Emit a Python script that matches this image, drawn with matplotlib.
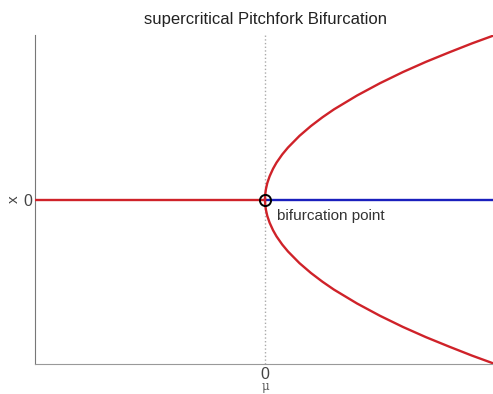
import matplotlib
matplotlib.use('Agg')
import matplotlib.pyplot as plt

plt.rcParams['font.family'] = ['Liberation Sans', 'DejaVu Sans']

# fixed point branches of dx/dt = mu*x - x^3
mu_left = [-1.0, 0.0]
x_left = [0.0, 0.0]          # stable (mu < 0)
mu_right = [0.0, 1.0]
x_right = [0.0, 0.0]         # unstable (mu > 0)

mu_branch = [0.0, 0.001, 0.004, 0.01, 0.02, 0.035, 0.05, 0.075, 0.1, 0.15,
             0.2, 0.25, 0.3, 0.4, 0.5, 0.6, 0.7, 0.8, 0.9, 1.0]
x_upper = [0.0, 0.032, 0.063, 0.10, 0.141, 0.187, 0.224, 0.274, 0.316, 0.387,
           0.447, 0.50, 0.548, 0.632, 0.707, 0.775, 0.837, 0.894, 0.949, 1.0]
x_lower = [0.0, -0.032, -0.063, -0.10, -0.141, -0.187, -0.224, -0.274, -0.316, -0.387,
           -0.447, -0.50, -0.548, -0.632, -0.707, -0.775, -0.837, -0.894, -0.949, -1.0]

red = '#cf2229'
blue = '#1a1fbd'

fig = plt.figure(figsize=(4.93, 3.94), dpi=100)
ax = fig.add_axes([35 / 493, 30 / 394, 460 / 493, 329 / 394])

ax.axvline(0, color='#aaaaaa', linestyle=':', linewidth=1, zorder=1)
ax.plot(mu_left, x_left, color=red, linewidth=1.7, zorder=3)
ax.plot(mu_right, x_right, color=blue, linewidth=1.7, zorder=3)
ax.plot(mu_branch, x_upper, color=red, linewidth=1.7, zorder=3)
ax.plot(mu_branch, x_lower, color=red, linewidth=1.7, zorder=3)
ax.plot([0], [0], marker='o', markersize=8, markerfacecolor='none',
        markeredgecolor='black', markeredgewidth=1.4, zorder=4)
ax.text(0.052, -0.1, 'bifurcation point', fontsize=11, color='#333333',
        ha='left', va='center')

ax.set_xlim(-1, 1)
ax.set_ylim(-1, 1)
ax.set_xticks([0])
ax.set_yticks([0])
ax.tick_params(length=0, labelsize=11.5, labelcolor='#444444', pad=2)
ax.set_xlabel('μ', fontsize=8.5, color='#555555', labelpad=-1,
              family=['DejaVu Serif'])
ax.set_ylabel('x', fontsize=11, color='#444444', labelpad=2)
ax.set_title('supercritical Pitchfork Bifurcation', fontsize=12,
             color='#222222', pad=8)

ax.spines['top'].set_visible(False)
ax.spines['right'].set_visible(False)
ax.spines['left'].set_color('#777777')
ax.spines['bottom'].set_color('#999999')

fig.savefig('out.png', dpi=100)
